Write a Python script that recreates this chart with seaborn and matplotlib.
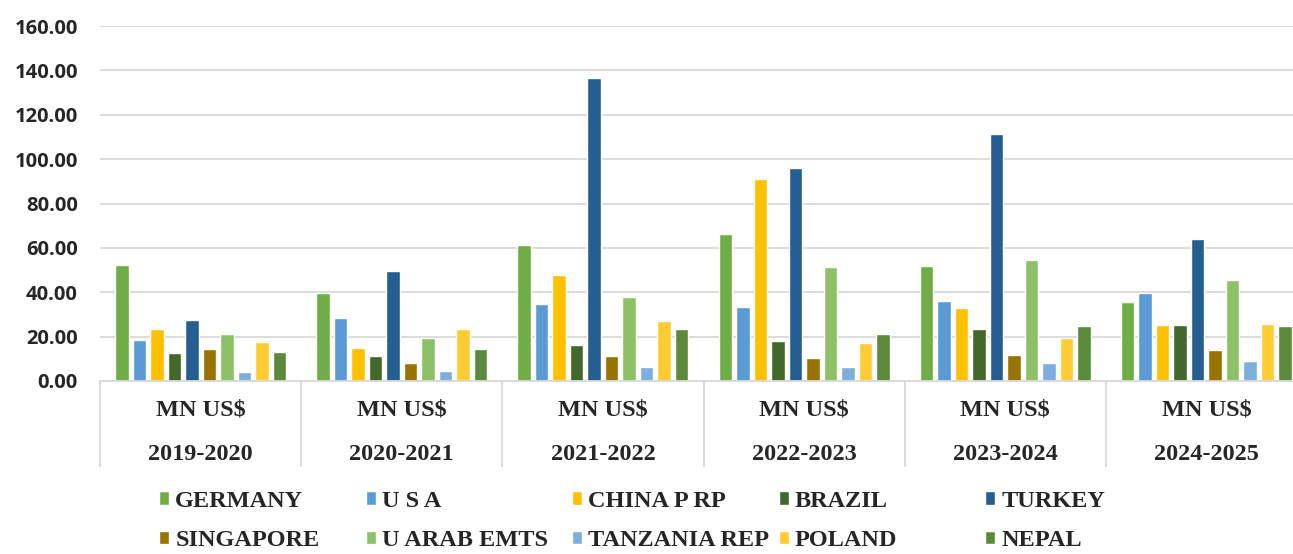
import numpy as np
import pandas as pd
import matplotlib.pyplot as plt
import seaborn as sns

# Export values in MN US$ per financial year
years = ["2019-2020", "2020-2021", "2021-2022", "2022-2023", "2023-2024", "2024-2025"]
countries = ["GERMANY", "U S A", "CHINA P RP", "BRAZIL", "TURKEY",
             "SINGAPORE", "U ARAB EMTS", "TANZANIA REP", "POLAND", "NEPAL"]

germany = [52.3, 39.6, 61.3, 66.2, 52.0, 35.5]
usa = [18.7, 28.4, 34.9, 33.4, 36.0, 39.7]
china = [23.3, 14.9, 47.7, 90.9, 32.8, 25.1]
brazil = [12.5, 11.3, 16.1, 18.1, 23.6, 25.1]
turkey = [27.4, 49.8, 136.5, 95.9, 111.1, 63.9]
singapore = [14.2, 8.2, 11.3, 10.3, 11.9, 13.9]
uae = [21.1, 19.6, 37.9, 51.6, 54.7, 45.6]
tanzania = [4.1, 4.7, 6.5, 6.1, 8.0, 9.2]
poland = [17.6, 23.3, 26.9, 17.0, 19.6, 25.7]
nepal = [13.0, 14.5, 23.6, 21.2, 24.8, 24.7]

colors = ["#70AD47", "#5B9BD5", "#FFC000", "#43682B", "#255E91",
          "#997300", "#8CC168", "#7CAFDD", "#FFCD33", "#5B8B3A"]

series = [germany, usa, china, brazil, turkey, singapore, uae, tanzania, poland, nepal]
df = pd.DataFrame({
    "year": np.tile(years, len(countries)),
    "country": np.repeat(countries, len(years)),
    "value": np.concatenate(series),
})

sns.set_style("white")
plt.rcParams["font.family"] = ["Liberation Serif", "DejaVu Serif"]

fig = plt.figure(figsize=(12.93, 5.54), dpi=100)
ax = fig.add_axes([100 / 1293, 173 / 554, 1207 / 1293, 355 / 554])

sns.barplot(data=df, x="year", y="value", hue="country", order=years,
            hue_order=countries, palette=colors, width=0.87, gap=0.23,
            saturation=1, ax=ax)

handles, labels = ax.get_legend_handles_labels()
ax.get_legend().remove()

grid_c = "#D9D9D9"
ax.set_ylim(0, 160)
ax.set_xlim(-0.5, len(years) - 0.5)
ax.set_yticks(np.arange(0, 161, 20))
ax.set_yticklabels([f"{v:.2f}" for v in np.arange(0, 161, 20)],
                   family=["Open Sans", "DejaVu Sans"], fontweight="bold", fontsize=14.5)
ax.yaxis.grid(True, color=grid_c, linewidth=1.3)
ax.set_axisbelow(True)
ax.tick_params(axis="y", length=0, pad=16)

ax.set_xticks(range(len(years)))
ax.set_xticklabels([f"MN US$\n{y}" for y in years], fontsize=17.5,
                   fontweight="bold", linespacing=2.5)
ax.set_xticks(np.arange(-0.5, len(years)), minor=True)
ax.tick_params(axis="x", which="major", length=0, pad=13)
ax.tick_params(axis="x", which="minor", bottom=True, length=62, width=1.3,
               color=grid_c, direction="out")
ax.set_xlabel("")
ax.set_ylabel("")

for s in ["left", "top", "right"]:
    ax.spines[s].set_visible(False)
ax.spines["bottom"].set_color(grid_c)
ax.spines["bottom"].set_linewidth(1.3)

# legend: 5 columns of 2 entries, evenly spaced
for i in range(5):
    fig.legend([handles[i], handles[i + 5]], [labels[i], labels[i + 5]],
               loc="center left", bbox_to_anchor=((159 + i * 206.5) / 1293, 33 / 554),
               frameon=False, borderpad=0, borderaxespad=0,
               handlelength=0.42, handleheight=0.5, handletextpad=0.25,
               labelspacing=0.75,
               prop={"family": ["Liberation Serif"], "weight": "bold", "size": 17.5})

fig.savefig("out.png", dpi=100)
